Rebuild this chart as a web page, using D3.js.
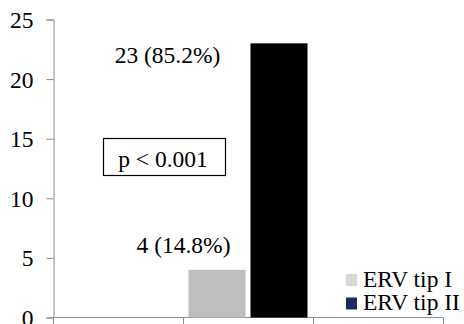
<!DOCTYPE html>
<html>
<head>
<meta charset="utf-8">
<script src="https://cdn.jsdelivr.net/npm/d3@7/dist/d3.min.js"></script>
<style>
  html, body { margin: 0; padding: 0; background: #fff; }
  svg { display: block; }
</style>
</head>
<body>
<svg id="chart" width="464" height="324"></svg>
<script>
// Chart data
const categories = ["a", "b", "c"];
const seriesNames = ["ERV tip I", "ERV tip II"];
const seriesValues = [
  [null, 4, null],
  [null, 23, null]
];
const valueLabels = [
  [null, "4 (14.8%)", null],
  [null, "23 (85.2%)", null]
];
const yTicks = [0, 5, 10, 15, 20, 25];
const annotation = "p < 0.001";

const FONT = '"Liberation Serif", "Times New Roman", serif';
const FS = "23.5px";
const barColors = ["#bfbfbf", "#000000"];
const legendColors = ["#d9d9d9", "#1f2b5e"];
const axisColor = "#8c8c8c";

const svg = d3.select("#chart");

const x = d3.scaleBand().domain(categories).range([53, 443]).paddingInner(0).paddingOuter(0);
const xs = d3.scaleBand().domain(d3.range(seriesNames.length))
  .range([0, x.bandwidth()]).paddingInner(0.0806).paddingOuter(0.0887);
const y = d3.scaleLinear().domain([0, 25]).range([317.5, 19.5]);

function txt(sel) {
  return sel.style("font-family", FONT).style("font-size", FS).attr("fill", "#000");
}

// Y axis
const yAxis = svg.append("g").attr("transform", "translate(53.5,0)")
  .call(d3.axisLeft(y).tickValues(yTicks).tickSize(7).tickPadding(13));
yAxis.select(".domain").attr("stroke", axisColor);
yAxis.selectAll(".tick line").attr("stroke", axisColor);
txt(yAxis.selectAll(".tick text")).attr("dy", "0.34em");

// X axis with ticks on category boundaries
const xAxisG = svg.append("g").attr("transform", "translate(0,317.5)");
xAxisG.append("line").attr("x1", x.range()[0]).attr("x2", x.range()[1])
  .attr("stroke", axisColor);
const boundaries = categories.map(c => x(c)).concat([x.range()[1]]);
xAxisG.selectAll(".xt").data(boundaries).join("line")
  .attr("x1", d => Math.round(d) + 0.5).attr("x2", d => Math.round(d) + 0.5)
  .attr("y1", 0).attr("y2", 7).attr("stroke", axisColor);

// Bars
seriesNames.forEach((name, si) => {
  svg.append("g").selectAll("rect")
    .data(categories.map((c, i) => ({ c, v: seriesValues[si][i] })).filter(d => d.v != null))
    .join("rect")
    .attr("x", d => x(d.c) + xs(si))
    .attr("width", xs.bandwidth())
    .attr("y", d => y(d.v))
    .attr("height", d => y(0) - y(d.v))
    .attr("fill", barColors[si]);
});

// Value labels, placed beside their bars
const labelPos = [
  { si: 0, dx: -33.5, dy: -16.8 },
  { si: 1, dx: -111.5, dy: 19.7 }
];
labelPos.forEach(p => {
  categories.forEach((c, i) => {
    const v = seriesValues[p.si][i];
    if (v == null) return;
    txt(svg.append("text"))
      .attr("x", x(c) + xs(p.si) + xs.bandwidth() / 2 + p.dx)
      .attr("y", y(v) + p.dy)
      .attr("text-anchor", "middle")
      .text(valueLabels[p.si][i]);
  });
});

// Significance box
const box = svg.append("g");
box.append("rect").attr("x", 103.5).attr("y", 138.5).attr("width", 122).attr("height", 37)
  .attr("fill", "#fff").attr("stroke", "#000").attr("stroke-width", 1.2);
txt(box.append("text")).attr("x", 163).attr("y", 166.5).attr("text-anchor", "middle")
  .text(annotation);

// Legend
const legend = svg.append("g").attr("transform", "translate(346,274)");
seriesNames.forEach((name, i) => {
  const g = legend.append("g").attr("transform", `translate(0,${i * 23.5})`);
  g.append("rect").attr("width", 11).attr("height", 12).attr("fill", legendColors[i]);
  txt(g.append("text")).attr("x", 17).attr("y", 12.5).text(name);
});
</script>
</body>
</html>
